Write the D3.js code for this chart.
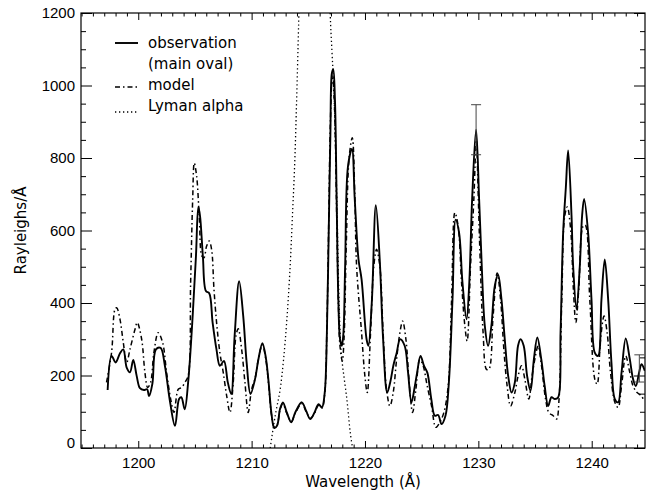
<!DOCTYPE html>
<meta charset="utf-8">
<style>

html, body {
  margin: 0;
  background: #fff;
}

svg {
  display: block;
  font-family: "DejaVu Sans", sans-serif;
}

.axis text {
  font-size: 15px;
  fill: #000;
}

.axis line {
  stroke: #000;
  stroke-width: 1px;
}

.axis path {
  display: none;
}

.frame {
  fill: none;
  stroke: #000;
  stroke-width: 1.2px;
}

.obs {
  fill: none;
  stroke: #000;
  stroke-width: 1.9px;
}

.model {
  fill: none;
  stroke: #000;
  stroke-width: 1.5px;
  stroke-dasharray: 5,3,1.5,3;
}

.lyman {
  fill: none;
  stroke: #000;
  stroke-width: 1.3px;
  stroke-dasharray: 1.3,2.7;
}

.err line {
  stroke: #444;
  stroke-width: 1px;
}

.legend text, .title {
  font-size: 15px;
  fill: #000;
}

</style>
<svg class="chart"></svg>
<script src="https://d3js.org/d3.v7.min.js"></script>
<script>

// observed spectrum, main oval [wavelength (A), Rayleighs/A]
var observation = [
  [1197.3,160],[1197.65,254],[1198.0,236],[1198.4,262],[1198.68,272],[1198.98,222],[1199.27,209],
  [1199.56,243],[1199.86,199],[1200.15,165],[1200.5,160],[1200.78,162],[1200.95,143],[1201.25,178],
  [1201.56,272],[1201.97,276],[1202.35,227],[1202.8,128],[1203.24,61],[1203.6,135],[1203.8,140],
  [1204.1,107],[1204.4,181],[1204.8,364],[1205.09,529],[1205.3,665],[1205.45,640],[1205.7,529],
  [1205.97,433],[1206.26,427],[1206.56,346],[1206.9,272],[1207.2,227],[1207.56,240],[1207.9,181],
  [1208.2,149],[1208.5,309],[1208.9,460],[1209.26,364],[1209.56,236],[1209.9,149],[1210.3,190],
  [1210.6,245],[1210.95,289],[1211.25,250],[1211.5,181],[1211.75,95],[1212.0,55],[1212.25,62],
  [1212.5,107],[1212.76,126],[1213.1,98],[1213.5,71],[1213.85,98],[1214.43,126],[1214.8,103],
  [1215.17,80],[1215.55,98],[1215.9,121],[1216.2,112],[1216.45,153],[1216.64,318],[1216.8,594],
  [1216.95,869],[1217.08,1034],[1217.2,1045],[1217.35,961],[1217.5,685],[1217.65,410],[1217.8,300],
  [1217.96,282],[1218.1,318],[1218.25,502],[1218.5,777],[1218.85,825],[1219.1,685],[1219.43,520],
  [1219.7,465],[1220.14,300],[1220.3,282],[1220.6,401],[1220.96,670],[1221.3,520],[1221.6,300],
  [1221.96,153],[1222.25,185],[1222.5,227],[1222.8,263],[1223.1,300],[1223.5,282],[1223.8,208],
  [1224.1,126],[1224.4,171],[1224.6,208],[1224.9,254],[1225.2,227],[1225.5,208],[1225.85,135],
  [1226.16,89],[1226.45,91],[1226.75,66],[1227.1,89],[1227.4,181],[1227.72,410],[1228.0,630],
  [1228.3,594],[1228.6,456],[1228.96,355],[1229.2,456],[1229.45,685],[1229.8,878],[1230.07,685],
  [1230.3,502],[1230.57,337],[1230.86,282],[1231.15,337],[1231.45,447],[1231.74,478],[1232.04,410],
  [1232.33,300],[1232.63,199],[1232.93,153],[1233.22,181],[1233.5,282],[1233.72,300],[1234.0,282],
  [1234.3,199],[1234.6,158],[1234.9,245],[1235.2,305],[1235.55,245],[1235.85,171],[1236.16,116],
  [1236.45,140],[1236.75,135],[1237.04,140],[1237.25,318],[1237.48,594],[1237.72,720],[1237.92,821],
  [1238.22,640],[1238.36,502],[1238.66,383],[1238.95,502],[1239.15,640],[1239.33,687],[1239.68,594],
  [1239.98,410],[1240.27,263],[1240.56,254],[1240.86,410],[1241.15,520],[1241.45,410],[1241.74,236],
  [1242.04,135],[1242.33,126],[1242.63,208],[1243.0,302],[1243.36,245],[1243.65,190],[1243.89,171],
  [1244.18,208],[1244.39,231],[1244.68,213]
];

// model spectrum
var model = [
  [1197.2,181],[1197.65,264],[1197.95,383],[1198.1,387],[1198.39,355],[1198.68,291],[1198.98,236],
  [1199.27,272],[1199.71,327],[1199.91,346],[1200.3,300],[1200.59,208],[1200.83,167],[1201.09,181],
  [1201.38,263],[1201.76,318],[1202.15,291],[1202.5,208],[1202.86,135],[1203.15,98],[1203.53,162],
  [1203.83,167],[1204.12,181],[1204.41,200],[1204.62,456],[1204.8,685],[1204.94,786],[1205.15,750],
  [1205.38,640],[1205.62,529],[1205.8,525],[1206.03,557],[1206.26,571],[1206.47,548],[1206.68,438],
  [1206.91,346],[1207.2,263],[1207.5,208],[1207.8,144],[1208.09,98],[1208.38,181],[1208.62,309],
  [1208.82,329],[1209.12,272],[1209.41,181],[1209.7,98],[1210.0,162],[1210.29,190],[1210.6,245],
  [1210.95,285],[1211.25,245],[1211.5,175],[1211.75,92],[1212.0,58],[1212.25,64],[1212.5,104],
  [1212.76,122],[1213.1,96],[1213.5,73],[1213.85,96],[1214.43,122],[1214.8,101],[1215.17,82],
  [1215.55,96],[1215.9,118],[1216.2,110],[1216.45,150],[1216.64,330],[1216.8,620],[1216.95,900],
  [1217.12,1030],[1217.3,950],[1217.5,650],[1217.65,400],[1217.8,280],[1218.0,240],[1218.15,300],
  [1218.35,560],[1218.6,800],[1218.88,856],[1219.1,700],[1219.26,502],[1219.7,318],[1219.99,199],
  [1220.2,153],[1220.49,318],[1220.78,502],[1221.02,548],[1221.31,502],[1221.6,318],[1221.9,162],
  [1222.2,116],[1222.49,153],[1222.79,245],[1223.08,318],[1223.32,350],[1223.61,300],[1223.9,181],
  [1224.2,98],[1224.49,162],[1224.84,245],[1225.13,227],[1225.49,171],[1225.87,116],[1226.25,57],
  [1226.6,71],[1226.96,98],[1227.34,171],[1227.64,410],[1227.93,649],[1228.22,612],[1228.52,456],
  [1228.81,337],[1229.01,295],[1229.31,502],[1229.6,685],[1229.82,850],[1230.0,685],[1230.13,548],
  [1230.42,318],[1230.72,217],[1230.93,217],[1231.3,364],[1231.66,483],[1231.96,410],[1232.25,272],
  [1232.54,171],[1232.84,116],[1233.22,153],[1233.51,199],[1233.81,227],[1234.1,190],[1234.45,135],
  [1234.74,199],[1235.04,254],[1235.27,282],[1235.57,227],[1235.93,135],[1236.22,98],[1236.6,89],
  [1236.9,80],[1237.12,135],[1237.36,410],[1237.62,640],[1237.85,665],[1238.15,600],[1238.38,440],
  [1238.6,346],[1238.86,440],[1239.24,612],[1239.43,615],[1239.83,410],[1240.27,190],[1240.48,176],
  [1240.78,300],[1241.09,364],[1241.36,318],[1241.66,208],[1242.04,126],[1242.33,112],[1242.63,171],
  [1243.0,254],[1243.36,208],[1243.65,171],[1244.0,153],[1244.39,144],[1244.53,135]
];

// geocoronal Lyman alpha (runs off the top of the plot)
var lyman = [
  [1211.64,0],[1212.08,89],[1212.52,162],[1212.82,245],[1213.11,355],[1213.4,502],[1213.6,640],
  [1213.79,777],[1213.93,915],[1214.05,1052],[1214.17,1199],[1214.5,1600],[1215.5,2600],
  [1216.6,1600],[1216.93,1199],[1217.08,1098],[1217.23,1007],[1217.37,869],[1217.52,685],
  [1217.67,456],[1217.81,318],[1217.96,245],[1218.4,135],[1218.7,43],[1218.9,0]
];

// error bars: wavelength, low, high
var errWave = [1229.8, 1244.2];
var errLow = [809, 182];
var errHigh = [947, 257];

var xMajor = [1200, 1210, 1220, 1230, 1240];
var yMajor = [0, 200, 400, 600, 800, 1000, 1200];

var legendLabels = ['observation', '(main oval)', 'model', 'Lyman alpha'];

var width = 649;
var height = 491;
var margin = {left: 81, right: 4, top: 13, bottom: 43};
var plotW = width - margin.left - margin.right;
var plotH = height - margin.top - margin.bottom;

var svg = d3.select('svg.chart')
  .attr('width', width)
  .attr('height', height);

var g = svg.append('g')
  .attr('transform', 'translate(' + margin.left + ',' + margin.top + ')');

var x = d3.scaleLinear()
  .domain([1194.95, 1244.7])
  .range([0, plotW]);

var y = d3.scaleLinear()
  .domain([0, 1200])
  .range([plotH, 0]);

var xMinor = d3.range(1195, 1245, 1).filter(function (d) { return d % 10 !== 0; });
var yMinor = d3.range(0, 1201, 50).filter(function (d) { return d % 200 !== 0; });

// bottom axis
g.append('g').attr('class', 'axis')
  .attr('transform', 'translate(0,' + plotH + ')')
  .call(d3.axisBottom(x).tickValues(xMajor).tickSize(-7).tickPadding(9).tickFormat(d3.format('d')));
g.append('g').attr('class', 'axis')
  .attr('transform', 'translate(0,' + plotH + ')')
  .call(d3.axisBottom(x).tickValues(xMinor).tickSize(-3.5).tickFormat(''));

// top axis
g.append('g').attr('class', 'axis')
  .call(d3.axisTop(x).tickValues(xMajor).tickSize(-7).tickFormat(''));
g.append('g').attr('class', 'axis')
  .call(d3.axisTop(x).tickValues(xMinor).tickSize(-3.5).tickFormat(''));

// left axis
var yl = g.append('g').attr('class', 'axis')
  .call(d3.axisLeft(y).tickValues(yMajor).tickSize(-11).tickPadding(6).tickFormat(d3.format('d')));
yl.selectAll('.tick text').attr('dy', function (d) { return d === 0 ? '-0.05em' : '0.32em'; });
g.append('g').attr('class', 'axis')
  .call(d3.axisLeft(y).tickValues(yMinor).tickSize(-5).tickFormat(''));

// right axis
g.append('g').attr('class', 'axis')
  .attr('transform', 'translate(' + plotW + ',0)')
  .call(d3.axisRight(y).tickValues(yMajor).tickSize(-11).tickFormat(''));
g.append('g').attr('class', 'axis')
  .attr('transform', 'translate(' + plotW + ',0)')
  .call(d3.axisRight(y).tickValues(yMinor).tickSize(-5).tickFormat(''));

g.append('rect')
  .attr('class', 'frame')
  .attr('width', plotW)
  .attr('height', plotH);

g.append('clipPath').attr('id', 'clip')
  .append('rect')
  .attr('width', plotW)
  .attr('height', plotH);

var line = d3.line()
  .x(function (d) { return x(d[0]); })
  .y(function (d) { return y(d[1]); })
  .curve(d3.curveCatmullRom.alpha(0.5));

var plot = g.append('g').attr('clip-path', 'url(#clip)');

plot.append('path').datum(lyman).attr('class', 'lyman').attr('d', line);
plot.append('path').datum(model).attr('class', 'model').attr('d', line);
plot.append('path').datum(observation).attr('class', 'obs').attr('d', line);

// error bars
var err = plot.append('g').attr('class', 'err')
  .selectAll('g')
  .data(errWave)
  .enter().append('g');

err.append('line')
  .attr('x1', function (d) { return x(d); })
  .attr('x2', function (d) { return x(d); })
  .attr('y1', function (d, i) { return y(errLow[i]); })
  .attr('y2', function (d, i) { return y(errHigh[i]); });
err.append('line')
  .attr('x1', function (d) { return x(d) - 5; })
  .attr('x2', function (d) { return x(d) + 5; })
  .attr('y1', function (d, i) { return y(errHigh[i]); })
  .attr('y2', function (d, i) { return y(errHigh[i]); });
err.append('line')
  .attr('x1', function (d) { return x(d) - 5; })
  .attr('x2', function (d) { return x(d) + 5; })
  .attr('y1', function (d, i) { return y(errLow[i]); })
  .attr('y2', function (d, i) { return y(errLow[i]); });

// legend
var legend = g.append('g').attr('class', 'legend')
  .attr('transform', 'translate(34,30)');

var legendRows = [0, 21, 42, 63];
var legendStyle = ['obs', null, 'model', 'lyman'];

legend.selectAll('text')
  .data(legendLabels)
  .enter().append('text')
  .attr('x', 33)
  .attr('y', function (d, i) { return legendRows[i]; })
  .attr('dy', '0.35em')
  .text(function (d) { return d; });

legend.selectAll('path')
  .data(legendStyle.filter(function (d) { return d; }))
  .enter().append('path')
  .attr('class', function (d) { return d; })
  .attr('d', function (d, i) {
    var row = [0, 2, 3][i];
    var yy = legendRows[row] + (d === 'lyman' ? 6 : (d === 'model' ? 2 : 0));
    return 'M0,' + yy + 'H23';
  });

// axis titles
svg.append('text')
  .attr('class', 'title')
  .attr('x', margin.left + plotW / 2)
  .attr('y', 487)
  .attr('text-anchor', 'middle')
  .text('Wavelength (Å)');

svg.append('text')
  .attr('class', 'title')
  .attr('transform', 'translate(26,' + (margin.top + plotH / 2) + ') rotate(-90)')
  .attr('text-anchor', 'middle')
  .text('Rayleighs/Å');

</script>
